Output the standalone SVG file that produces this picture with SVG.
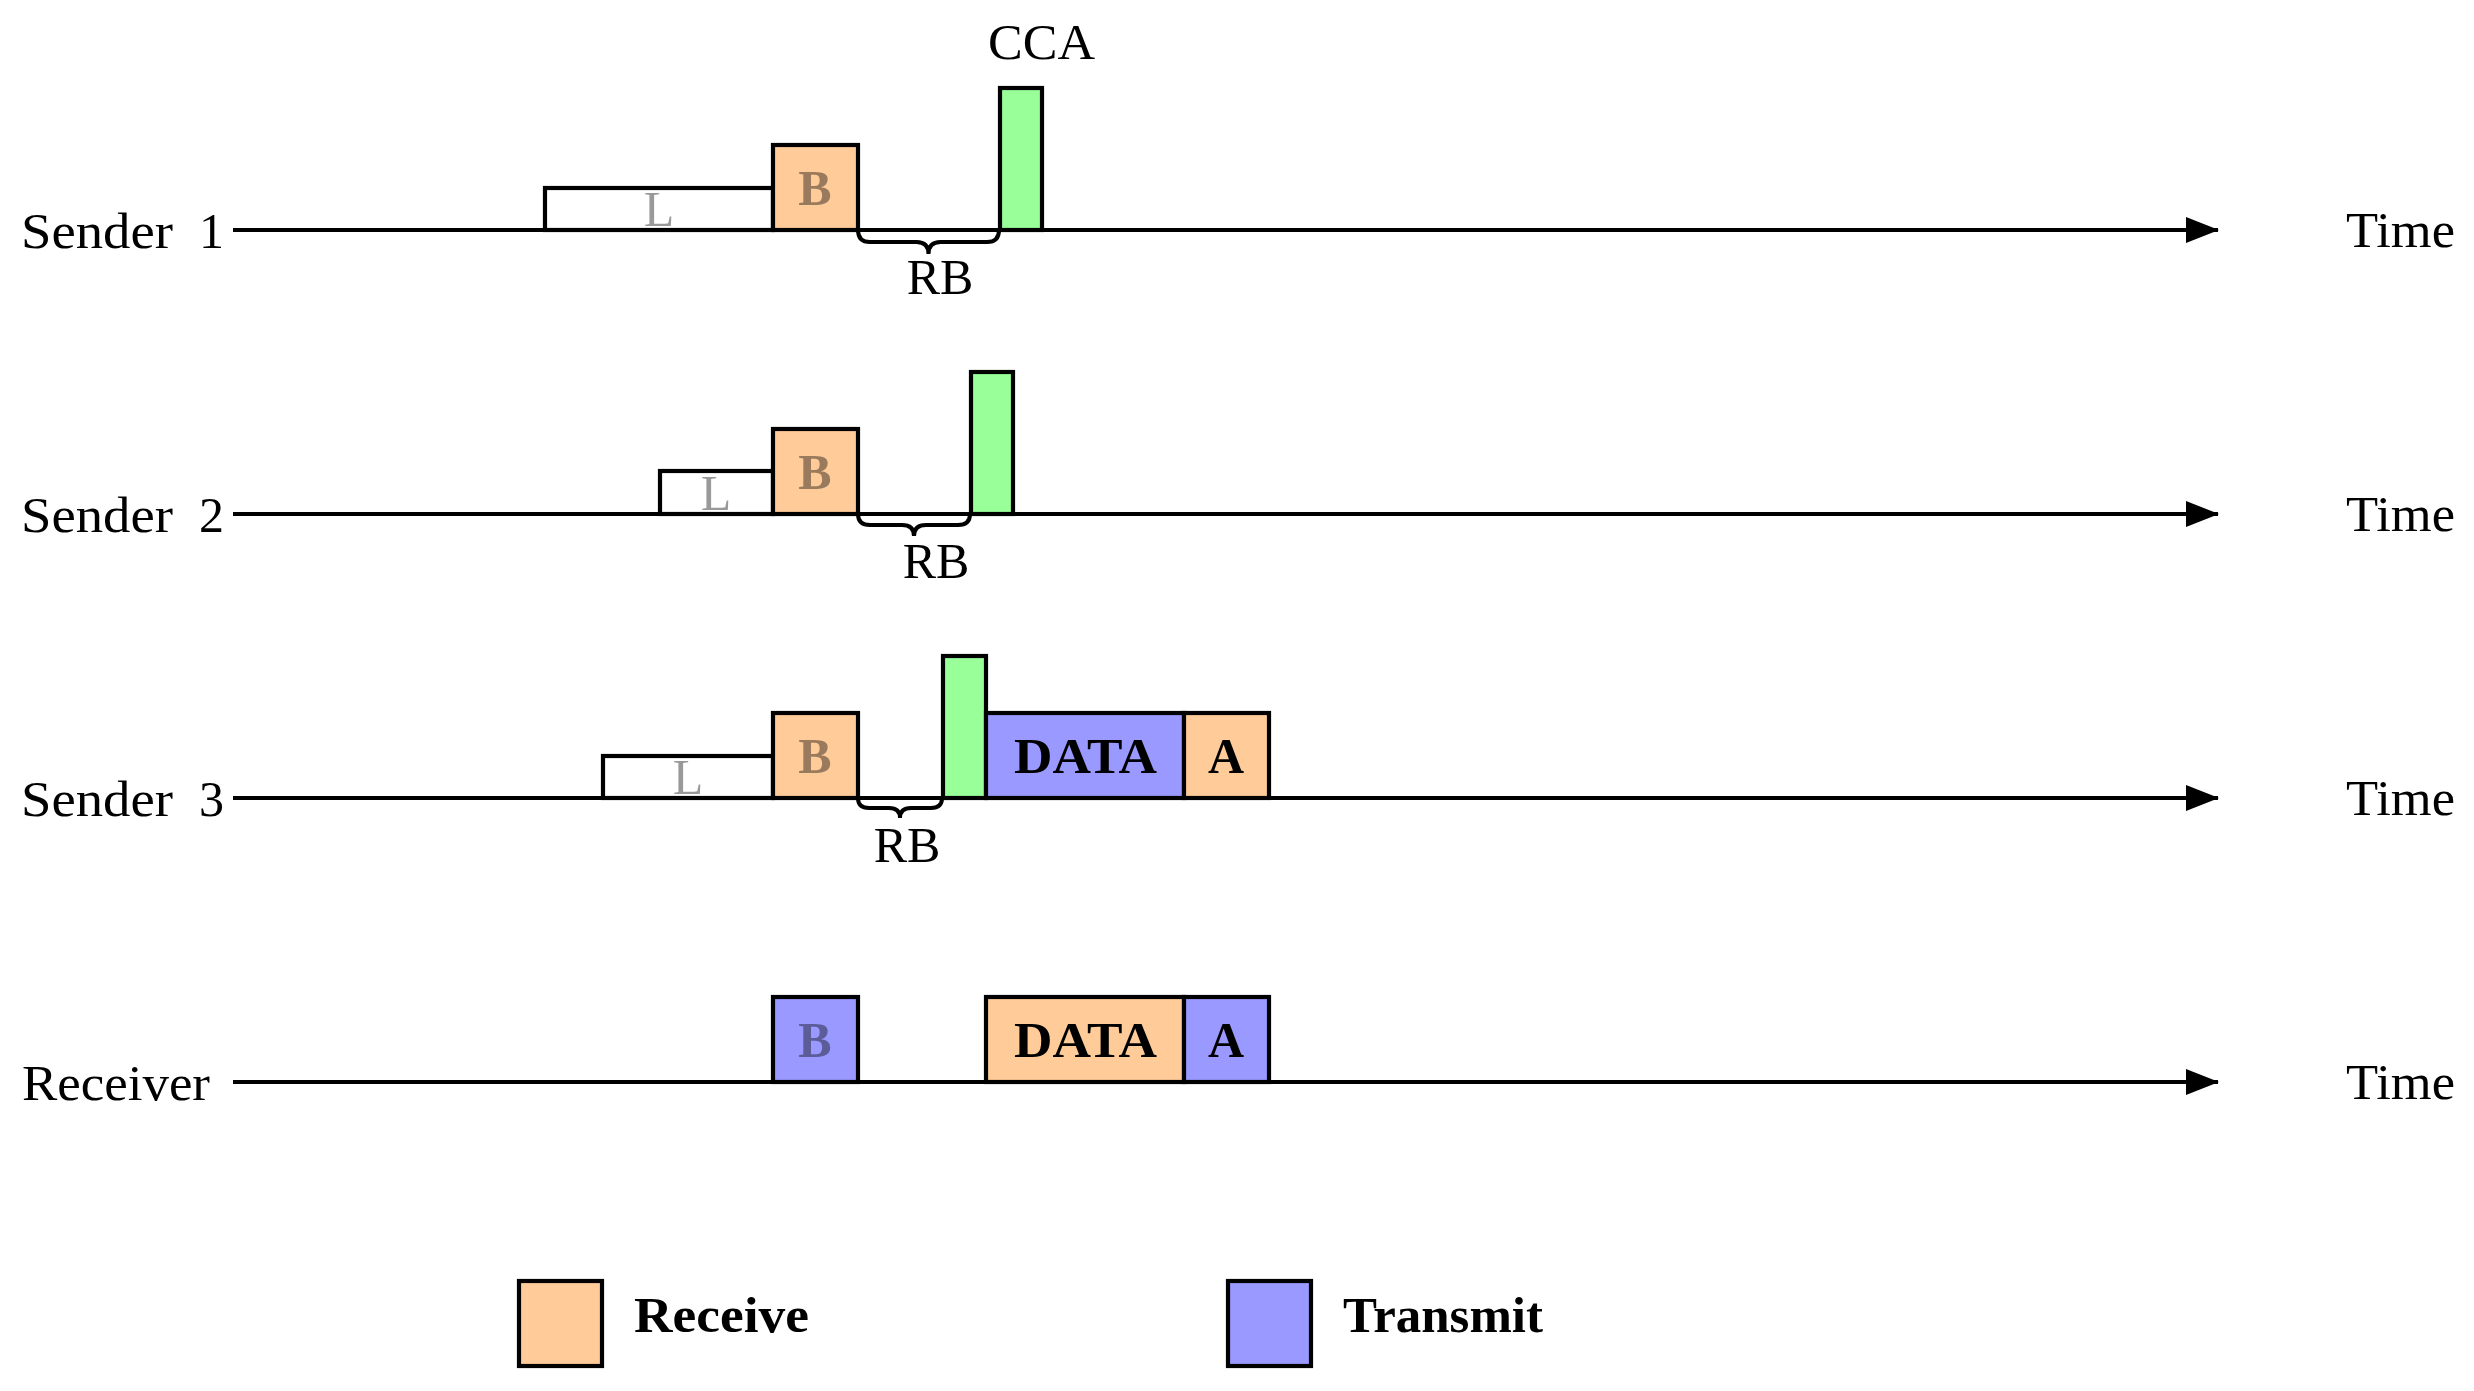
<svg xmlns="http://www.w3.org/2000/svg" width="2474" height="1391" viewBox="0 0 2474 1391">
<style>
text{font-family:"Liberation Serif","Times New Roman",serif;font-size:50px;fill:#000}
.b{font-weight:bold}
.c{text-anchor:middle}
.dim{fill-opacity:0.4}
.box{stroke:#000;stroke-width:4.2}
.rx{fill:#FFCC99}
.tx{fill:#9999FF}
.cca{fill:#99FF99}
.lst{fill:#fff}
.axis{stroke:#000;stroke-width:4;fill:none}
.brace{stroke:#000;stroke-width:4;fill:none}
</style>
<defs>
<marker id="arr" markerUnits="userSpaceOnUse" markerWidth="34" markerHeight="28" refX="32" refY="14" orient="auto">
<path d="M0,1 L33,14 L0,27 z" fill="#000"/>
</marker>
</defs>
<g id="connectors">
<line class="axis" x1="233" y1="230" x2="2218" y2="230" marker-end="url(#arr)"/>
<line class="axis" x1="233" y1="514" x2="2218" y2="514" marker-end="url(#arr)"/>
<line class="axis" x1="233" y1="798" x2="2218" y2="798" marker-end="url(#arr)"/>
<line class="axis" x1="233" y1="1082" x2="2218" y2="1082" marker-end="url(#arr)"/>
<path class="brace" d="M858,230 q0,12 12,12 h46.5 q12,0 12,12 q0,-12 12,-12 h46.5 q12,0 12,-12"/>
<path class="brace" d="M858,514 q0,11 12,11 h32 q12,0 12,11 q0,-11 12,-11 h32 q12,0 12,-11"/>
<path class="brace" d="M858,798 q0,10 11,10 h20 q11,0 11,10 q0,-10 11,-10 h20 q11,0 11,-10"/>
</g>
<g id="sender1">
<text x="21" y="248" textLength="152" lengthAdjust="spacingAndGlyphs">Sender</text><text x="224" y="248" text-anchor="end">1</text>
<rect class="box lst" x="545" y="188" width="228" height="42"/>
<text class="c dim" x="659" y="226">L</text>
<rect class="box rx" x="773" y="145" width="85" height="85"/>
<text class="c b dim" x="815" y="205">B</text>
<rect class="box cca" x="1000" y="88" width="42" height="142"/>
<text x="988" y="59" textLength="107" lengthAdjust="spacingAndGlyphs">CCA</text>
<text class="c" x="940" y="294">RB</text>
<text x="2346" y="247" textLength="109" lengthAdjust="spacingAndGlyphs">Time</text>
</g>
<g id="sender2">
<text x="21" y="532" textLength="152" lengthAdjust="spacingAndGlyphs">Sender</text><text x="224" y="532" text-anchor="end">2</text>
<rect class="box lst" x="660" y="471" width="113" height="43"/>
<text class="c dim" x="716" y="510">L</text>
<rect class="box rx" x="773" y="429" width="85" height="85"/>
<text class="c b dim" x="815" y="489">B</text>
<rect class="box cca" x="971" y="372" width="42" height="142"/>
<text class="c" x="936" y="578">RB</text>
<text x="2346" y="531" textLength="109" lengthAdjust="spacingAndGlyphs">Time</text>
</g>
<g id="sender3">
<text x="21" y="816" textLength="152" lengthAdjust="spacingAndGlyphs">Sender</text><text x="224" y="816" text-anchor="end">3</text>
<rect class="box lst" x="603" y="756" width="170" height="42"/>
<text class="c dim" x="688" y="794">L</text>
<rect class="box rx" x="773" y="713" width="85" height="85"/>
<text class="c b dim" x="815" y="773">B</text>
<rect class="box cca" x="943" y="656" width="43" height="142"/>
<rect class="box tx" x="986" y="713" width="198" height="85"/>
<text x="1014" y="773" class="b" textLength="143" lengthAdjust="spacingAndGlyphs">DATA</text>
<rect class="box rx" x="1184" y="713" width="85" height="85"/>
<text class="c b" x="1226" y="773">A</text>
<text class="c" x="907" y="862">RB</text>
<text x="2346" y="815" textLength="109" lengthAdjust="spacingAndGlyphs">Time</text>
</g>
<g id="receiver">
<text x="22" y="1100" textLength="188" lengthAdjust="spacingAndGlyphs">Receiver</text>
<rect class="box tx" x="773" y="997" width="85" height="85"/>
<text class="c b dim" x="815" y="1057">B</text>
<rect class="box rx" x="986" y="997" width="198" height="85"/>
<text x="1014" y="1057" class="b" textLength="143" lengthAdjust="spacingAndGlyphs">DATA</text>
<rect class="box tx" x="1184" y="997" width="85" height="85"/>
<text class="c b" x="1226" y="1057">A</text>
<text x="2346" y="1099" textLength="109" lengthAdjust="spacingAndGlyphs">Time</text>
</g>
<g id="legend-receive">
<rect class="box rx" x="519" y="1281" width="83" height="85"/>
<text class="b" x="634" y="1332" textLength="175" lengthAdjust="spacingAndGlyphs">Receive</text>
</g>
<g id="legend-transmit">
<rect class="box tx" x="1228" y="1281" width="83" height="85"/>
<text class="b" x="1343" y="1332" textLength="200" lengthAdjust="spacingAndGlyphs">Transmit</text>
</g>
</svg>
